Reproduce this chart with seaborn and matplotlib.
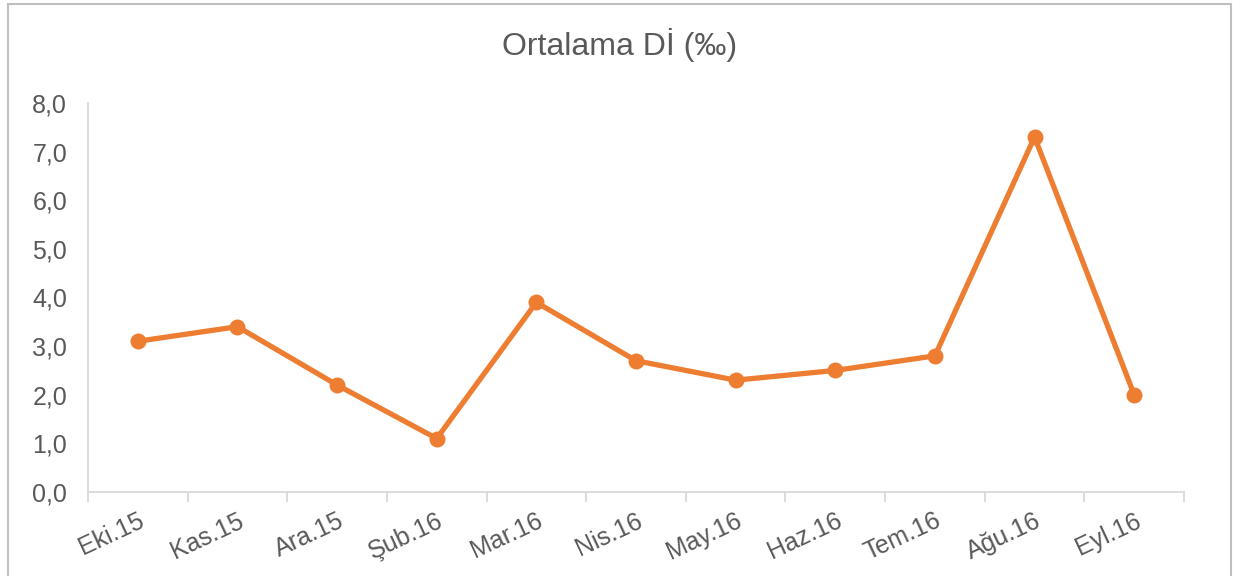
import matplotlib
matplotlib.use("Agg")
import matplotlib.pyplot as plt
import matplotlib.patches as mpatches
from matplotlib.ticker import FixedLocator, FuncFormatter
import numpy as np
import pandas as pd
import seaborn as sns

months = ["Eki.15", "Kas.15", "Ara.15", "Şub.16", "Mar.16", "Nis.16",
          "May.16", "Haz.16", "Tem.16", "Ağu.16", "Eyl.16"]
values = [3.1, 3.4, 2.2, 1.1, 3.9, 2.7, 2.3, 2.5, 2.8, 7.3, 2.0]
title = "Ortalama Dİ (‰)"

sns.set_theme(style="white")
plt.rcParams["font.family"] = ["Liberation Sans", "DejaVu Sans"]

text_color = "#595959"
line_color = "#ED7D31"
axis_color = "#D9D9D9"

df = pd.DataFrame({"ay": months, "deger": values})
df["pos"] = np.arange(len(months))

fig = plt.figure(figsize=(12.4, 5.76), dpi=100)
ax = fig.add_axes([88 / 1240, 1 - 492 / 576, (1184 - 88) / 1240, (492 - 103) / 576])

sns.lineplot(data=df, x="pos", y="deger", ax=ax, color=line_color,
             linewidth=3.8, marker="o", markersize=11.5, markeredgewidth=0,
             sort=False)

ax.set_xlim(-0.5, len(months) - 0.5)
ax.set_ylim(0, 8)
ax.set_xlabel("")
ax.set_ylabel("")

ax.set_yticks(np.arange(0, 9, 1))
ax.yaxis.set_major_formatter(FuncFormatter(lambda v, p: f"{v:.1f}".replace(".", ",")))
ax.tick_params(axis="y", length=0, pad=15, labelsize=18, labelcolor=text_color)

ax.xaxis.set_major_locator(FixedLocator(df["pos"].tolist()))
ax.set_xticklabels(months)
ax.xaxis.set_minor_locator(FixedLocator(np.arange(-0.5, len(months), 1.0)))
ax.tick_params(axis="x", which="major", length=0, pad=12, labelsize=18,
               labelcolor=text_color)
ax.tick_params(axis="x", which="minor", length=7, width=1.3, color=axis_color,
               direction="out", bottom=True)
for lab in ax.get_xticklabels():
    lab.set_rotation(25)
    lab.set_ha("right")
    lab.set_rotation_mode("anchor")

for side in ["top", "right"]:
    ax.spines[side].set_visible(False)
for side in ["left", "bottom"]:
    ax.spines[side].set_color(axis_color)
    ax.spines[side].set_linewidth(1.3)
ax.grid(False)

fig.text(0.5, 1 - 45 / 576, title, ha="center", va="center",
         fontsize=23, color=text_color)

# chart frame
frame = mpatches.Rectangle((8 / 1240, -0.05), (1231 - 8) / 1240, 1.05 - 4 / 576,
                           transform=fig.transFigure, fill=False,
                           edgecolor="#BFBFBF", linewidth=1.5)
fig.patches.append(frame)

fig.savefig("out.png", dpi=100, facecolor="white")
